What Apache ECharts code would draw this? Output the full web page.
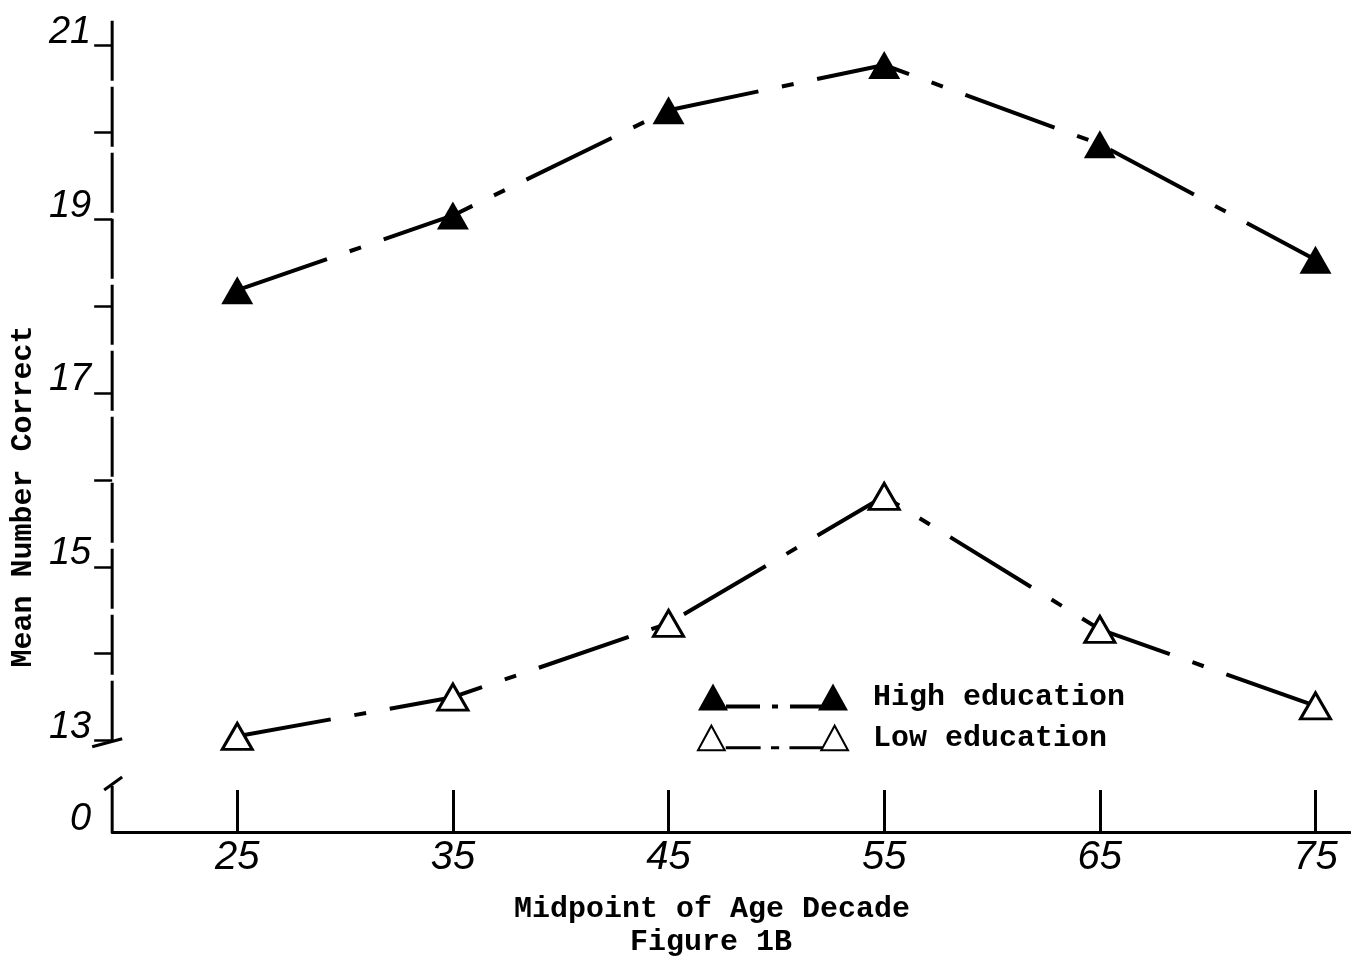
<!DOCTYPE html>
<html>
<head>
<meta charset="utf-8">
<script src="https://cdn.jsdelivr.net/npm/echarts@6/dist/echarts.min.js"></script>
<style>
html,body{margin:0;padding:0;background:#fff;}
#chart{width:1351px;height:960px;}
</style>
</head>
<body>
<div id="chart"></div>
<script>
// ---- data ----
const ages = [25, 35, 45, 55, 65, 75];
const highEducation = [18.18, 19.04, 20.25, 20.77, 19.86, 18.53];
const lowEducation = [13.05, 13.5, 14.35, 15.81, 14.28, 13.4];
const yLabelValues = [13, 15, 17, 19, 21];
const yTickValues = [13, 14, 15, 16, 17, 18, 19, 20, 21];
const yBase = 11.95;          // bottom of broken axis, labelled "0"
const yBaseLabel = '0';
const xMin = 19.2, xMax = 76.6;

const handFont = 'Liberation Sans';
const typeFont = 'Liberation Mono';

const iconHigh = 'path://M0 27 L15 0 L30 27 Z M28 21 L62 21 L62 25 L28 25 Z M74 21 L80 21 L80 25 L74 25 Z M92 21 L124 21 L124 25 L92 25 Z M120 27 L135 0 L150 27 Z';
const iconLow = 'path://M2 26 L15 2 L28 26 Z M30 23 L62 23 L62 24 L30 24 Z M74 23 L80 23 L80 24 L74 24 Z M92 23 L122 23 L122 24 L92 24 Z M122 26 L135 2 L148 26 Z';

const chart = echarts.init(document.getElementById('chart'), null, {renderer: 'canvas'});

const option = {
  backgroundColor: '#fff',
  animation: false,
  title: {
    text: 'Figure 1B',
    left: 625, top: 922,
    textStyle: {fontFamily: typeFont, fontSize: 30, fontWeight: 'bold', color: '#000'}
  },
  grid: {left: 108, right: 1, top: 45, bottom: 128, containLabel: false},
  legend: {
    orient: 'vertical',
    left: 697, top: 682,
    padding: 0,
    itemWidth: 150, itemHeight: 27, itemGap: 11,
    selectedMode: false,
    textStyle: {fontFamily: typeFont, fontSize: 30, fontWeight: 'bold', color: '#000', lineHeight: 27, padding: [0, 0, 0, 20]},
    data: [
      {name: 'High education', icon: iconHigh},
      {name: 'Low education', icon: iconLow}
    ]
  },
  xAxis: {
    type: 'value',
    min: xMin, max: xMax,
    name: 'Midpoint of Age Decade',
    nameLocation: 'middle',
    nameGap: 62,
    nameTextStyle: {fontFamily: typeFont, fontSize: 30, fontWeight: 'bold', color: '#000', padding: [0, 38, 0, 0]},
    axisLine: {show: true, lineStyle: {color: '#000', width: 3}},
    axisTick: {show: true, inside: true, length: 42, customValues: ages, lineStyle: {color: '#000', width: 3}},
    axisLabel: {
      customValues: ages, margin: 6,
      fontFamily: handFont, fontStyle: 'italic', fontSize: 40, color: '#000'
    },
    splitLine: {show: false}
  },
  yAxis: {
    type: 'value',
    min: yBase, max: 21,
    name: 'Mean Number Correct',
    nameLocation: 'middle',
    nameRotate: 90,
    nameGap: 72,
    nameTextStyle: {fontFamily: typeFont, fontSize: 30, fontWeight: 'bold', color: '#000', padding: [0, 116, 0, 0]},
    axisLine: {show: false},
    axisTick: {show: true, length: 18, customValues: yTickValues, lineStyle: {color: '#000', width: 2.5}},
    axisLabel: {
      customValues: [yBase].concat(yLabelValues),
      margin: 21, verticalAlign: 'bottom', lineHeight: 26,
      fontFamily: handFont, fontStyle: 'italic', fontSize: 38, color: '#000',
      formatter: function (v) { return v < 12.5 ? yBaseLabel : String(Math.round(v)); }
    },
    splitLine: {show: false}
  },
  series: [
    {
      name: 'High education',
      type: 'line',
      data: ages.map((a, i) => [a, highEducation[i]]),
      symbol: 'triangle',
      symbolSize: [32, 28],
      itemStyle: {color: '#000'},
      lineStyle: {color: '#000', width: 4, type: [95, 24, 12, 24]},
      z: 3
    },
    {
      name: 'Low education',
      type: 'line',
      data: ages.map((a, i) => [a, lowEducation[i]]),
      symbol: 'triangle',
      symbolSize: [30, 26],
      showAllSymbol: true,
      itemStyle: {color: '#fff', borderColor: '#000', borderWidth: 3},
      lineStyle: {color: '#000', width: 4, type: [95, 24, 12, 24]},
      z: 3
    }
  ]
};
chart.setOption(option);

// ---- broken y axis line drawn from the axis scale ----
const ax = chart.convertToPixel({xAxisIndex: 0}, xMin);
const yTop = chart.convertToPixel({yAxisIndex: 0}, 21.28);
const y13 = chart.convertToPixel({yAxisIndex: 0}, 13);
const yBot = chart.convertToPixel({yAxisIndex: 0}, yBase);
const ln = {stroke: '#000', lineWidth: 3};
chart.setOption({
  graphic: [
    {type: 'line', shape: {x1: ax, y1: yTop, x2: ax, y2: y13}, style: Object.assign({lineDash: [60, 6]}, ln), silent: true},
    {type: 'line', shape: {x1: ax - 20, y1: y13 + 6, x2: ax + 10, y2: y13 - 2}, style: ln, silent: true},
    {type: 'line', shape: {x1: ax, y1: yBot - 46, x2: ax, y2: yBot}, style: ln, silent: true},
    {type: 'line', shape: {x1: ax - 8, y1: yBot - 42, x2: ax + 10, y2: yBot - 55}, style: ln, silent: true}
  ]
});
</script>
</body>
</html>
